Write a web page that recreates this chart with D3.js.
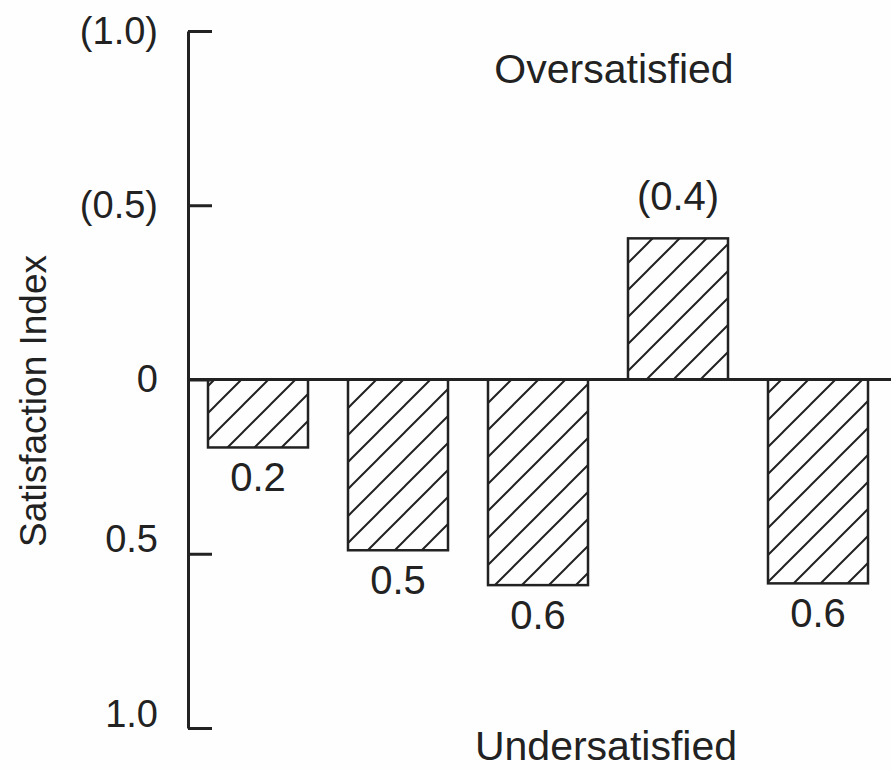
<!DOCTYPE html>
<html>
<head>
<meta charset="utf-8">
<script src="https://cdn.jsdelivr.net/npm/d3@7"></script>
<style>
  html, body { margin: 0; padding: 0; background: #fefefe; }
  svg { display: block; }
  text { font-family: "Liberation Sans", Arial, Helvetica, sans-serif; fill: #222; }
</style>
</head>
<body>
<svg id="chart" width="891" height="770"></svg>
<script>
// ---- data ----
const categories = ["A", "B", "C", "D", "E"];
const values = [-0.195, -0.49, -0.59, 0.405, -0.585];
const barLabels = ["0.2", "0.5", "0.6", "(0.4)", "0.6"];
const tickValues = [1, 0.5, 0, -0.5, -1];
const tickLabels = ["(1.0)", "(0.5)", "0", "0.5", "1.0"];
const yTitle = "Satisfaction Index";
const topNote = "Oversatisfied";
const bottomNote = "Undersatisfied";

// ---- layout ----
const svg = d3.select("#chart");
const axisX = 188;
const ink = "#222";

const y = d3.scaleLinear().domain([-1, 1]).range([728, 31]);
const x = d3.scaleBand().domain(categories)
  .range([188, 888]).paddingInner(40 / 140).paddingOuter(20 / 140);

// hatch pattern
const hs = 27;
const defs = svg.append("defs");
const pat = defs.append("pattern")
  .attr("id", "hatch").attr("patternUnits", "userSpaceOnUse")
  .attr("width", hs).attr("height", hs);
pat.append("path")
  .attr("d", `M-2,2 L2,-2 M0,${hs} L${hs},0 M${hs - 2},${hs + 2} L${hs + 2},${hs - 2}`)
  .attr("stroke", ink).attr("stroke-width", 2);

// bars
svg.append("g").selectAll("rect").data(values).join("rect")
  .attr("x", (d, i) => x(categories[i]))
  .attr("width", x.bandwidth())
  .attr("y", d => y(Math.max(0, d)))
  .attr("height", d => Math.abs(y(d) - y(0)))
  .attr("fill", "url(#hatch)")
  .attr("stroke", ink).attr("stroke-width", 2.5);

// bar labels
svg.append("g").selectAll("text").data(values).join("text")
  .attr("x", (d, i) => x(categories[i]) + x.bandwidth() / 2)
  .attr("y", d => d < 0 ? y(d) + 44 : y(d) - 28)
  .attr("text-anchor", "middle")
  .attr("font-size", 40)
  .text((d, i) => barLabels[i]);

// zero line
svg.append("line")
  .attr("x1", axisX).attr("x2", 891)
  .attr("y1", y(0)).attr("y2", y(0))
  .attr("stroke", ink).attr("stroke-width", 3);

// y axis
const yAxis = d3.axisLeft(y)
  .tickValues(tickValues)
  .tickFormat((d, i) => tickLabels[i])
  .tickSizeInner(-24).tickSizeOuter(0).tickPadding(30);
const gAxis = svg.append("g")
  .attr("transform", `translate(${axisX},0)`)
  .call(yAxis);
gAxis.select(".domain").attr("stroke", ink).attr("stroke-width", 3);
gAxis.selectAll(".tick line").attr("stroke", ink).attr("stroke-width", 3);
gAxis.selectAll(".tick text")
  .attr("font-size", 38)
  .attr("font-family", "Liberation Sans, Arial, sans-serif")
  .attr("fill", ink)
  .attr("dy", d => d < 0 ? "-0.05em" : "0.32em");

// y title
svg.append("text")
  .attr("transform", "translate(46,401) rotate(-90)")
  .attr("text-anchor", "middle")
  .attr("font-size", 37)
  .text(yTitle);

// notes
svg.append("text")
  .attr("x", 614).attr("y", 83)
  .attr("text-anchor", "middle")
  .attr("font-size", 41)
  .text(topNote);
svg.append("text")
  .attr("x", 606).attr("y", 760)
  .attr("text-anchor", "middle")
  .attr("font-size", 41)
  .text(bottomNote);
</script>
</body>
</html>
